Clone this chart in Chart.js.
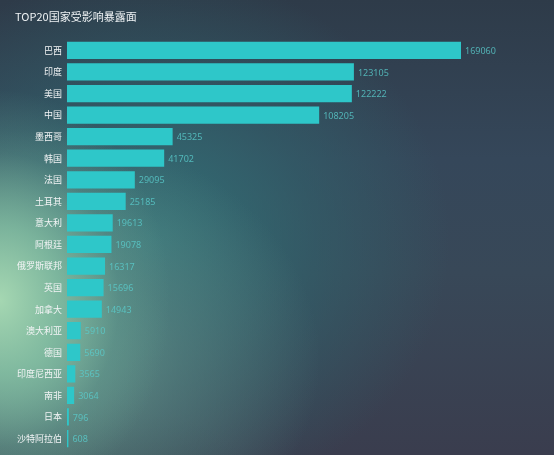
<!DOCTYPE html>
<html>
<head>
<meta charset="utf-8">
<script src="https://cdn.jsdelivr.net/npm/chart.js@4/dist/chart.umd.min.js"></script>
<style>
  html, body { margin: 0; padding: 0; }
  body {
    width: 554px; height: 455px; overflow: hidden;
    background:
      radial-gradient(ellipse 170px 210px at 0px 300px, rgba(165,215,178,1) 0%, rgba(135,195,165,0.8) 35%, rgba(100,160,145,0.35) 70%, rgba(90,150,140,0) 100%),
      radial-gradient(ellipse 280px 230px at 40px 360px, rgba(118,170,152,0.8) 0%, rgba(100,145,138,0.5) 50%, rgba(80,120,120,0) 100%),
      radial-gradient(ellipse 300px 270px at 150px 240px, rgba(50,118,122,0.9) 0%, rgba(48,104,112,0.5) 55%, rgba(50,90,100,0) 100%),
      radial-gradient(ellipse 220px 80px at 30px 475px, rgba(40,50,60,0.7) 0%, rgba(40,50,60,0) 100%),
      linear-gradient(to bottom, #2e3b49 0%, #35475a 35%, #384858 60%, #3a3d4e 100%);
  }
  #wrap { position: absolute; left: 0; top: 0; width: 554px; height: 455px; }
</style>
</head>
<body>
<div id="wrap"><canvas id="c" width="554" height="455"></canvas></div>
<script>
const titleText = 'TOP20国家受影响暴露面';
const categories = ['巴西','印度','美国','中国','墨西哥','韩国','法国','土耳其','意大利','阿根廷','俄罗斯联邦','英国','加拿大','澳大利亚','德国','印度尼西亚','南非','日本','沙特阿拉伯'];
const values = [169060, 123105, 122222, 108205, 45325, 41702, 29095, 25185, 19613, 19078, 16317, 15696, 14943, 5910, 5690, 3565, 3064, 796, 608];

const valueLabels = {
  id: 'valueLabels',
  afterDatasetsDraw(chart) {
    const ctx = chart.ctx;
    const meta = chart.getDatasetMeta(0);
    ctx.save();
    ctx.font = '9px "Noto Sans", "Noto Sans CJK SC", sans-serif';
    ctx.fillStyle = 'rgba(90,205,205,0.8)';
    ctx.textAlign = 'left';
    ctx.textBaseline = 'middle';
    meta.data.forEach((bar, i) => {
      ctx.fillText(String(values[i]), bar.x + 4, bar.y + 1);
    });
    ctx.restore();
  }
};

new Chart(document.getElementById('c'), {
  type: 'bar',
  data: {
    labels: categories,
    datasets: [{
      data: values,
      backgroundColor: '#2ec7c9',
      borderWidth: 0,
      categoryPercentage: 1,
      barPercentage: 0.8
    }]
  },
  options: {
    indexAxis: 'y',
    responsive: false,
    animation: false,
    layout: { padding: { left: 15, right: 67.5, top: 0, bottom: 5.7 } },
    plugins: {
      legend: { display: false },
      tooltip: { enabled: false },
      title: {
        display: true,
        text: titleText,
        align: 'start',
        color: '#eef2f4',
        font: { size: 11, family: '"Noto Sans CJK SC", "Noto Sans", sans-serif', weight: 'normal' },
        padding: { top: 10, bottom: 16.4 }
      }
    },
    scales: {
      x: {
        display: false,
        min: 0,
        max: 180000
      },
      y: {
        afterFit(scale) { scale.width = 52; scale.paddingTop = 0; scale.paddingBottom = 0; },
        grid: { display: false, drawTicks: false },
        border: { display: false },
        ticks: {
          color: '#f2f4f5',
          padding: 5,
          autoSkip: false,
          font: { size: 9, family: '"Noto Sans CJK SC", sans-serif' }
        }
      }
    }
  },
  plugins: [valueLabels]
});
</script>
</body>
</html>
